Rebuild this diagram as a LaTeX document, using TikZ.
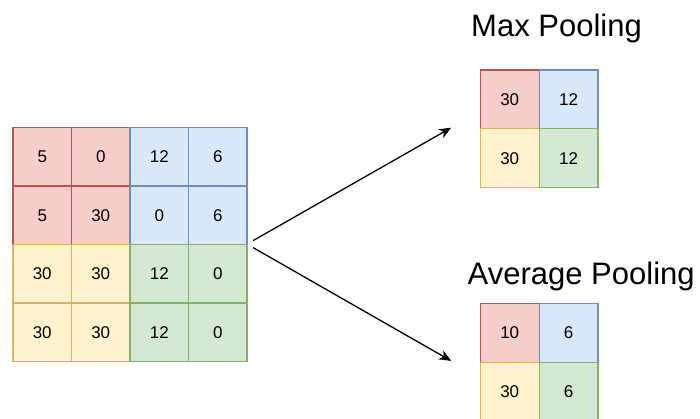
\documentclass[tikz,border=0pt]{standalone}
\usepackage{fontspec}
\setmainfont{Liberation Sans}
\usetikzlibrary{arrows.meta}
\definecolor{redF}{HTML}{F8CECC}\definecolor{redD}{HTML}{B85450}
\definecolor{bluF}{HTML}{DAE8FC}\definecolor{bluD}{HTML}{6C8EBF}
\definecolor{yelF}{HTML}{FFF2CC}\definecolor{yelD}{HTML}{D6B656}
\definecolor{grnF}{HTML}{D5E8D4}\definecolor{grnD}{HTML}{82B366}
\tikzset{
  cell/.style={minimum width=#1, minimum height=#1, inner sep=0pt, line width=1.2pt,
    font=\fontsize{17}{17}\selectfont},
  cell/.default=58.5pt,
  qr/.style={fill=redF, draw=redD},
  qb/.style={fill=bluF, draw=bluD},
  qy/.style={fill=yelF, draw=yelD},
  qg/.style={fill=grnF, draw=grnD},
  title/.style={font=\fontsize{31}{31}\selectfont, anchor=base, inner sep=0pt},
  flow/.style={line width=1.3pt, -{Stealth[length=12pt,width=10pt,inset=3.5pt]}}
}
\begin{document}
\begin{tikzpicture}[x=1pt,y=-1pt]
\clip (0,0) rectangle (700,418);
\fill[white] (0,0) rectangle (700,418);
% input feature map, 4x4
\def\cs{58.5}
\foreach \r/\c/\v/\q in {
  1/1/5/qr, 1/2/0/qr, 1/3/12/qb, 1/4/6/qb,
  2/1/5/qr, 2/2/30/qr, 2/3/0/qb, 2/4/6/qb,
  3/1/30/qy, 3/2/30/qy, 3/3/12/qg, 3/4/0/qg,
  4/1/30/qy, 4/2/30/qy, 4/3/12/qg, 4/4/0/qg}
  \node[cell, \q] (in\r\c) at ({13+(\c-0.5)*\cs},{127.5+(\r-0.5)*\cs}) {\v};
% max pooling result
\def\ps{58.8}
\foreach \r/\c/\v/\q in {1/1/30/qr, 1/2/12/qb, 2/1/30/qy, 2/2/12/qg}
  \node[cell=58.8pt, \q] (mx\r\c) at ({480.3+(\c-0.5)*\ps},{70+(\r-0.5)*\ps}) {\v};
% average pooling result
\foreach \r/\c/\v/\q in {1/1/10/qr, 1/2/6/qb, 2/1/30/qy, 2/2/6/qg}
  \node[cell=58.8pt, \q] (av\r\c) at ({480.3+(\c-0.5)*\ps},{303.5+(\r-0.5)*\ps}) {\v};
% titles
\node[title] (tmax) at (556.5,36.7) {Max Pooling};
\node[title] (tavg) at (581.2,284.3) {Average Pooling};
% connectors (yshift is in page direction: positive is up)
\coordinate (s1) at ([xshift=5.5pt,yshift=4.5pt]in24.south east);
\coordinate (s2) at ([xshift=5.5pt,yshift=-2.5pt]in24.south east);
\coordinate (e1) at ([xshift=-28.5pt,yshift=0.5pt]mx21.north west);
\coordinate (e2) at ([xshift=-28.5pt,yshift=2pt]av11.south west);
\draw[flow] (s1) -- (e1);
\draw[flow] (s2) -- (e2);
\end{tikzpicture}
\end{document}
